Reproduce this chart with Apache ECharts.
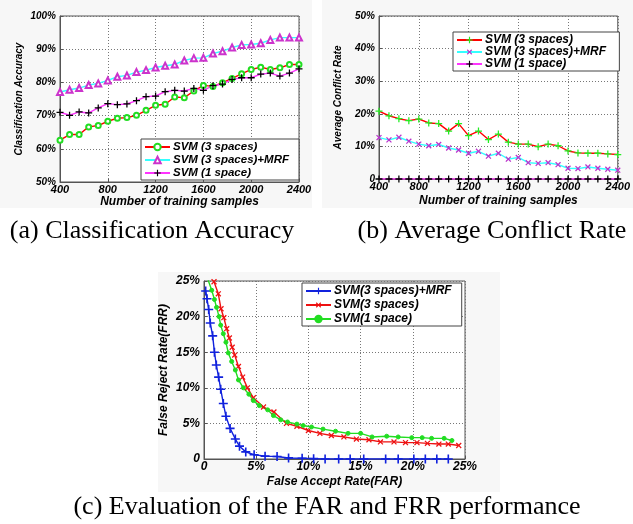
<!DOCTYPE html>
<html>
<head>
<meta charset="utf-8">
<script src="https://cdn.jsdelivr.net/npm/echarts@6/dist/echarts.min.js"></script>
<style>
  html, body { margin: 0; padding: 0; background: #fff; }
  #chart { width: 633px; height: 524px; }
</style>
</head>
<body>
<div id="chart"></div>
<script>
// (a) classification accuracy
const samplesA = [400, 480, 560, 640, 720, 800, 880, 960, 1040, 1120, 1200, 1280, 1360, 1440, 1520, 1600, 1680, 1760, 1840, 1920, 2000, 2080, 2160, 2240, 2320, 2400];
const accSvm3 = [62.6, 64.3, 64.3, 66.6, 67.0, 68.3, 69.2, 69.4, 70.1, 71.6, 73.1, 73.4, 75.6, 75.4, 77.4, 79.1, 78.8, 79.9, 81.2, 82.6, 83.9, 84.6, 83.9, 84.4, 85.4, 85.4];
const accMrf = [77.1, 77.8, 78.3, 79.2, 79.7, 80.6, 81.7, 82.1, 83.1, 83.7, 84.5, 85.0, 85.4, 86.6, 87.3, 87.4, 88.7, 89.4, 90.5, 91.3, 91.4, 91.8, 92.8, 93.5, 93.5, 93.5];
const accSvm1 = [71.0, 70.1, 71.1, 70.8, 72.3, 73.6, 73.3, 73.5, 74.5, 75.7, 75.9, 77.2, 77.6, 77.4, 78.2, 77.6, 79.0, 79.5, 80.9, 81.4, 81.4, 82.5, 82.8, 81.9, 82.8, 84.1];

// (b) average conflict rate
const samplesB = [480, 560, 640, 720, 800, 880, 960, 1040, 1120, 1200, 1280, 1360, 1440, 1520, 1600, 1680, 1760, 1840, 1920, 2000, 2080, 2160, 2240, 2320, 2400];
const confSvm3 = [20.8, 19.4, 18.5, 17.9, 18.4, 17.2, 17.0, 14.7, 17.0, 13.3, 14.7, 12.1, 13.8, 11.3, 10.7, 10.7, 9.9, 10.7, 10.2, 8.6, 8.0, 7.9, 7.9, 7.7, 7.5];
const confMrf = [12.7, 12.0, 12.8, 11.6, 10.7, 10.2, 10.6, 9.5, 8.9, 7.9, 8.5, 7.0, 7.9, 6.1, 6.6, 5.0, 4.8, 5.0, 4.4, 3.3, 3.2, 3.7, 3.3, 3.0, 2.7];
const confSvm1 = [0, 0, 0, 0, 0, 0, 0, 0, 0, 0, 0, 0, 0, 0, 0, 0, 0, 0, 0, 0, 0, 0, 0, 0, 0];
const ticksB = [480, 800, 1200, 1600, 2000, 2400];

// (c) FAR / FRR
const farMrf = [0.16, 0.29, 0.45, 0.6, 0.83, 1.0, 1.18, 1.4, 1.6, 1.85, 2.1, 2.5, 3.0, 3.4, 4.0, 4.8, 5.85, 7.0, 8.1, 9.4, 10.5, 11.6, 12.9, 14.0, 15.3, 17.4, 18.6, 20.1, 21.2, 22.3, 23.4];
const frrMrf = [23.6, 22.5, 21.0, 19.1, 17.3, 15.0, 13.2, 11.5, 9.8, 7.8, 6.0, 4.3, 2.8, 1.8, 1.0, 0.6, 0.4, 0.35, 0.15, 0.1, 0.05, 0, 0, 0, 0, 0, 0, 0, 0, 0, 0];
const farSvm3 = [0.96, 1.37, 1.63, 1.9, 2.17, 2.43, 2.7, 2.94, 3.3, 3.7, 4.16, 4.73, 5.7, 6.7, 7.9, 8.9, 10.0, 11.1, 12.2, 13.4, 14.6, 15.8, 16.9, 18.2, 19.3, 20.4, 21.4, 22.5, 23.4, 24.4];
const frrSvm3 = [24.9, 23.2, 21.1, 19.85, 18.3, 17.0, 15.7, 14.6, 13.0, 11.5, 10.0, 8.6, 7.3, 6.6, 5.0, 4.6, 4.0, 3.6, 3.3, 3.1, 2.8, 2.7, 2.4, 2.4, 2.3, 2.3, 2.2, 2.1, 2.1, 1.9];
const farSvm1 = [0.4, 0.74, 1.0, 1.2, 1.44, 1.6, 1.85, 2.1, 2.33, 2.65, 3.0, 3.3, 3.77, 4.3, 4.73, 5.3, 6.1, 6.65, 7.35, 8.0, 8.9, 9.5, 10.3, 11.4, 12.6, 13.8, 15.0, 16.1, 17.5, 18.6, 19.9, 20.9, 21.8, 23.0, 23.75];
const frrSvm1 = [25.1, 23.7, 22.4, 21.3, 20.0, 18.8, 17.6, 16.4, 14.9, 13.7, 12.5, 11.1, 10.0, 9.1, 8.2, 7.5, 6.9, 6.1, 5.5, 5.2, 4.9, 4.7, 4.5, 4.2, 3.9, 3.6, 3.6, 3.1, 3.2, 3.1, 3.0, 3.0, 2.9, 2.9, 2.6];

const zip = (xs, ys) => xs.map((x, i) => [x, ys[i]]);

// plus sign, used (rotated) for the x markers too
const PLUS = 'path://M4.1,0H5.9V4.1H10V5.9H5.9V10H4.1V5.9H0V4.1H4.1Z';
const font = 'Liberation Sans';
const tickFont = size => ({ fontFamily: font, fontWeight: 'bold', fontStyle: 'italic', fontSize: size, color: '#000' });
const pct = v => (v === 0 ? '0' : v + '%');

function valueAxis(gridIndex, min, max, interval, size, extra) {
  return Object.assign({
    type: 'value',
    gridIndex,
    min,
    max,
    interval,
    axisLine: { show: true, lineStyle: { color: '#555', width: 1 } },
    axisTick: { show: true, inside: true, length: 3, lineStyle: { color: '#555' } },
    splitLine: { show: true, lineStyle: { color: '#777', type: [1, 2], width: 1 } },
    axisLabel: Object.assign({ margin: 4, formatter: pct }, tickFont(size)),
    nameLocation: 'middle',
    nameTextStyle: tickFont(size),
  }, extra);
}

function line(name, xi, data, lineColor, symbol, symbolColor, symbolSize, extra) {
  const isPath = symbol.indexOf('path://') === 0;
  return Object.assign({
    name,
    type: 'line',
    xAxisIndex: xi,
    yAxisIndex: xi,
    data,
    symbol,
    symbolSize,
    showSymbol: true,
    animation: false,
    lineStyle: { color: lineColor, width: 1.4 },
    itemStyle: { color: symbolColor, borderColor: symbolColor, borderWidth: isPath ? 0 : 1 },
  }, extra);
}

function legendBox(left, top, names, size, gap) {
  return {
    left, top,
    orient: 'vertical',
    data: names,
    itemWidth: 25,
    itemHeight: 8,
    itemGap: gap,
    padding: [2, 10, 1, 3],
    borderColor: '#444',
    borderWidth: 1,
    backgroundColor: '#fff',
    textStyle: Object.assign(tickFont(size), { padding: [0, 0, 0, -2] }),
  };
}

const chart = echarts.init(document.getElementById('chart'));

const caption = (text, x, y) => ({
  type: 'text',
  x, y,
  style: { text, fontFamily: 'Liberation Serif', fontSize: 26, fill: '#000', align: 'center', verticalAlign: 'middle' },
});

chart.setOption({
  backgroundColor: '#fff',
  animation: false,
  graphic: [
    { type: 'rect', shape: { x: 0, y: 0, width: 312, height: 208 }, style: { fill: '#f7f7f7' }, z: -10 },
    { type: 'rect', shape: { x: 322, y: 0, width: 311, height: 208 }, style: { fill: '#f7f7f7' }, z: -10 },
    { type: 'rect', shape: { x: 158, y: 272, width: 342, height: 220 }, style: { fill: '#f7f7f7' }, z: -10 },
    caption('(a) Classification Accuracy', 152, 231),
    caption('(b) Average Conflict Rate', 492, 231),
    caption('(c) Evaluation of the FAR and FRR performance', 327, 507),
  ],
  grid: [
    { left: 60, top: 16, width: 239, height: 166, show: true, backgroundColor: '#fff', borderColor: '#555', borderWidth: 1 },
    { left: 379, top: 16, width: 243, height: 163, show: true, backgroundColor: '#fff', borderColor: '#555', borderWidth: 1 },
    { left: 204, top: 281, width: 261, height: 178, show: true, backgroundColor: '#fff', borderColor: '#555', borderWidth: 1 },
  ],
  xAxis: [
    valueAxis(0, 400, 2400, 400, 11, {
      axisLabel: Object.assign({ margin: 2, formatter: v => String(v) }, tickFont(11)),
      name: 'Number of training samples', nameGap: 13, nameTextStyle: tickFont(12),
    }),
    valueAxis(1, 480, 2400, null, 11, {
      axisTick: { show: true, inside: true, length: 3, customValues: ticksB, lineStyle: { color: '#555' } },
      axisLabel: Object.assign({ margin: 2, customValues: ticksB, formatter: v => (v === 480 ? '400' : String(v)) }, tickFont(11)),
      name: 'Number of training samples', nameGap: 16, nameTextStyle: tickFont(12),
    }),
    valueAxis(2, 0, 25, 5, 12, {
      axisLabel: Object.assign({ margin: 2, formatter: pct }, tickFont(12)),
      name: 'False Accept Rate(FAR)', nameGap: 17, nameTextStyle: tickFont(12),
    }),
  ],
  yAxis: [
    valueAxis(0, 50, 100, 10, 10, { name: 'Classification Accuracy', nameGap: 36, nameTextStyle: tickFont(10) }),
    valueAxis(1, 0, 50, 10, 10, { name: 'Average Conflict Rate', nameGap: 36, nameTextStyle: tickFont(10) }),
    valueAxis(2, 0, 25, 5, 12, { name: 'False Reject Rate(FRR)', nameGap: 34, nameTextStyle: tickFont(12) }),
  ],
  legend: [
    legendBox(141, 139, ['SVM (3 spaces)', 'SVM (3 spaces)+MRF', 'SVM (1 space)'], 11.5, 1),
    legendBox(453, 32, ['SVM (3 spaces) ', 'SVM (3 spaces)+MRF ', 'SVM (1 space) '], 12, 0),
    legendBox(302, 283, ['SVM(3 spaces)+MRF', 'SVM(3 spaces)', 'SVM(1 space)'], 12, 2),
  ],
  series: [
    line('SVM (3 spaces)', 0, zip(samplesA, accSvm3), '#ff0000', 'emptyCircle', '#22dd22', 5),
    line('SVM (3 spaces)+MRF', 0, zip(samplesA, accMrf), '#33ffff', 'emptyTriangle', '#cc33cc', 6),
    line('SVM (1 space)', 0, zip(samplesA, accSvm1), '#ff33ff', PLUS, '#000', 7),

    line('SVM (3 spaces) ', 1, zip(samplesB, confSvm3), '#ff0000', PLUS, '#22ee22', 7),
    line('SVM (3 spaces)+MRF ', 1, zip(samplesB, confMrf), '#33ffff', PLUS, '#bb33cc', 7, { symbolRotate: 45 }),
    line('SVM (1 space) ', 1, zip(samplesB, confSvm1), '#ff33ff', PLUS, '#000', 7),

    line('SVM(3 spaces)+MRF', 2, zip(farMrf, frrMrf), '#1122dd', PLUS, '#1122dd', 9),
    line('SVM(3 spaces)', 2, zip(farSvm3, frrSvm3), '#ee1111', PLUS, '#ee1111', 7, { symbolRotate: 45 }),
    line('SVM(1 space)', 2, zip(farSvm1, frrSvm1), '#22dd22', 'circle', '#22dd22', 4),
  ],
});
</script>
</body>
</html>
